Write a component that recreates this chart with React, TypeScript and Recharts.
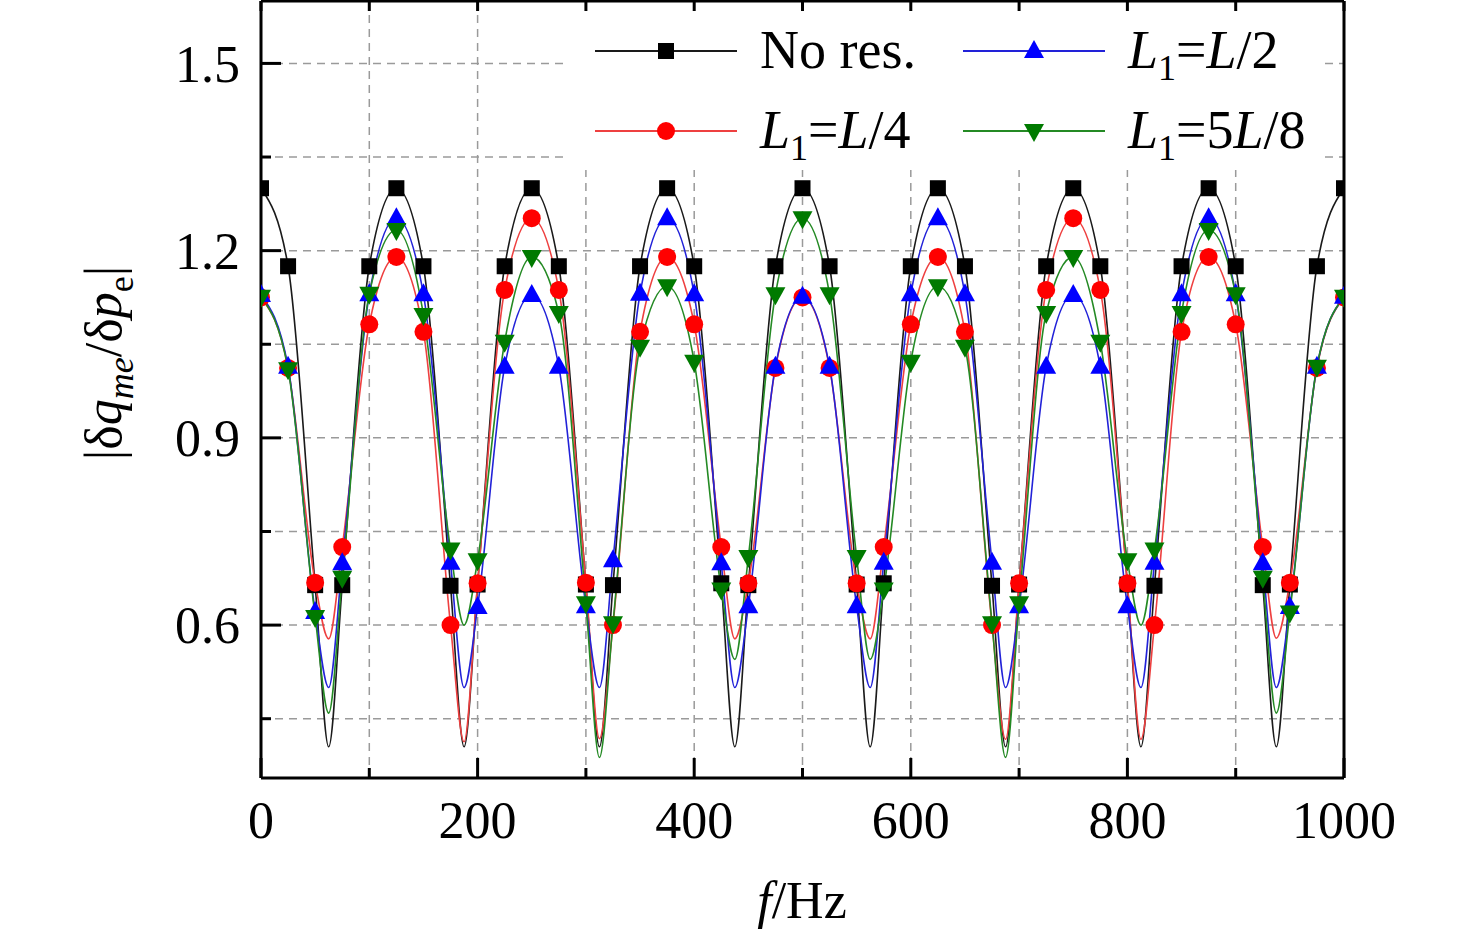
import React from "react";
import {
  LineChart, Line, XAxis, YAxis, CartesianGrid, Legend,
} from "recharts";

// frequency points: markers every 25 Hz, plus the dip bottoms between them
const F = [
  0, 25, 50, 62.5, 75, 100,
  125, 150, 175, 187.5, 200, 225,
  250, 275, 300, 312.5, 325, 350,
  375, 400, 425, 437.5, 450, 475,
  500, 525, 550, 562.5, 575, 600,
  625, 650, 675, 687.5, 700, 725,
  750, 775, 800, 812.5, 825, 850,
  875, 900, 925, 937.5, 950, 975,
  1000,
];

const NO_RES = [
  1.30, 1.175, 0.664, 0.405, 0.664, 1.175,
  1.30, 1.175, 0.663, 0.405, 0.665, 1.175,
  1.30, 1.175, 0.665, 0.405, 0.664, 1.175,
  1.30, 1.175, 0.667, 0.405, 0.664, 1.175,
  1.30, 1.175, 0.665, 0.405, 0.667, 1.175,
  1.30, 1.175, 0.663, 0.405, 0.665, 1.175,
  1.30, 1.175, 0.665, 0.405, 0.663, 1.175,
  1.30, 1.175, 0.664, 0.405, 0.665, 1.175,
  1.30,
];

const L_QUARTER = [
  1.125, 1.012, 0.668, 0.578, 0.725, 1.082,
  1.19, 1.07, 0.60, 0.413, 0.667, 1.137,
  1.252, 1.137, 0.668, 0.418, 0.60, 1.07,
  1.19, 1.082, 0.725, 0.578, 0.667, 1.012,
  1.125, 1.012, 0.667, 0.578, 0.725, 1.082,
  1.19, 1.07, 0.60, 0.417, 0.667, 1.137,
  1.252, 1.137, 0.667, 0.417, 0.60, 1.07,
  1.19, 1.082, 0.725, 0.579, 0.668, 1.012,
  1.125,
];

const L_HALF = [
  1.129, 1.014, 0.621, 0.50, 0.699, 1.13,
  1.252, 1.13, 0.70, 0.50, 0.629, 1.014,
  1.129, 1.014, 0.63, 0.50, 0.704, 1.131,
  1.252, 1.13, 0.699, 0.50, 0.63, 1.014,
  1.126, 1.014, 0.63, 0.50, 0.70, 1.13,
  1.252, 1.13, 0.70, 0.50, 0.63, 1.014,
  1.129, 1.014, 0.63, 0.50, 0.70, 1.13,
  1.252, 1.13, 0.699, 0.50, 0.629, 1.014,
  1.126,
];

const L_FIVE_EIGHTHS = [
  1.126, 1.01, 0.613, 0.459, 0.676, 1.131,
  1.233, 1.097, 0.721, 0.60, 0.704, 1.054,
  1.19, 1.10, 0.635, 0.388, 0.603, 1.046,
  1.143, 1.022, 0.657, 0.545, 0.709, 1.13,
  1.252, 1.13, 0.709, 0.545, 0.657, 1.022,
  1.143, 1.046, 0.603, 0.388, 0.635, 1.10,
  1.19, 1.054, 0.704, 0.60, 0.721, 1.10,
  1.233, 1.13, 0.676, 0.459, 0.62, 1.014,
  1.126,
];

const X_TICKS = [0, 100, 200, 300, 400, 500, 600, 700, 800, 900, 1000];
const Y_TICKS = [0.45, 0.6, 0.75, 0.9, 1.05, 1.2, 1.35, 1.5];
const X_MAJOR = [0, 200, 400, 600, 800, 1000];
const Y_MAJOR = [0.6, 0.9, 1.2, 1.5];

const FONT = "'Liberation Serif', 'Times New Roman', serif";
const FS = 52;

const data = F.map((f, i) => ({
  f,
  noRes: NO_RES[i],
  quarter: L_QUARTER[i],
  half: L_HALF[i],
  fiveEighths: L_FIVE_EIGHTHS[i],
}));

type Shape = "square" | "circle" | "up" | "down";

function Marker({ shape, color, cx, cy }: { shape: Shape; color: string; cx: number; cy: number }) {
  if (shape === "square") return <rect x={cx - 8} y={cy - 8} width={16} height={16} fill={color} />;
  if (shape === "circle") return <circle cx={cx} cy={cy} r={9} fill={color} />;
  if (shape === "up")
    return <polygon points={`${cx},${cy - 11} ${cx + 10},${cy + 7} ${cx - 10},${cy + 7}`} fill={color} />;
  return <polygon points={`${cx - 10},${cy - 7} ${cx + 10},${cy - 7} ${cx},${cy + 11}`} fill={color} />;
}

const makeDot = (shape: Shape, color: string) => (props: any) => {
  const { cx, cy, payload, index } = props;
  if (payload.f % 25 !== 0 || cx == null) return <g key={`d-${shape}-${index}`} />;
  return <g key={`d-${shape}-${index}`}><Marker shape={shape} color={color} cx={cx} cy={cy} /></g>;
};

const SERIES = [
  { key: "noRes", shape: "square" as Shape, line: "#1a1a1a", fill: "#000000" },
  { key: "quarter", shape: "circle" as Shape, line: "#ee4040", fill: "#ff0000" },
  { key: "half", shape: "up" as Shape, line: "#2222d8", fill: "#0000ff" },
  { key: "fiveEighths", shape: "down" as Shape, line: "#248a24", fill: "#007a00" },
];

function BottomTick(props: any) {
  const { x, y, payload } = props;
  const major = X_MAJOR.includes(payload.value);
  return (
    <g>
      <line x1={x} x2={x} y1={y} y2={y - (major ? 20 : 10)} stroke="#000" strokeWidth={3} />
      {major && (
        <text x={x} y={y + 60} textAnchor="middle" fontSize={FS} fontFamily={FONT} fill="#000">
          {payload.value}
        </text>
      )}
    </g>
  );
}

function TopTick(props: any) {
  const { x, y } = props;
  return <line x1={x} x2={x} y1={y} y2={y + 10} stroke="#000" strokeWidth={3} />;
}

function LeftTick(props: any) {
  const { x, y, payload } = props;
  const major = Y_MAJOR.some((v) => Math.abs(v - payload.value) < 1e-6);
  return (
    <g>
      <line x1={x} x2={x + (major ? 20 : 10)} y1={y} y2={y} stroke="#000" strokeWidth={3} />
      {major && (
        <text x={x - 21} y={y} dy="0.35em" textAnchor="end" fontSize={FS} fontFamily={FONT} fill="#000">
          {payload.value.toFixed(1)}
        </text>
      )}
    </g>
  );
}

function RightTick(props: any) {
  const { x, y, payload } = props;
  const major = Y_MAJOR.some((v) => Math.abs(v - payload.value) < 1e-6);
  return <line x1={x} x2={x - (major ? 20 : 10)} y1={y} y2={y} stroke="#000" strokeWidth={3} />;
}

function YTitle() {
  return (
    <text transform="translate(121,363) rotate(-90)" x={0} y={0} textAnchor="middle"
      fontSize={FS} fontFamily={FONT} fill="#000">
      |δ<tspan fontStyle="italic">q</tspan>
      <tspan fontStyle="italic" fontSize={36} dy={12}>me</tspan>
      <tspan dy={-12}>/δ</tspan>
      <tspan fontStyle="italic">p</tspan>
      <tspan fontSize={36} dy={12}>e</tspan>
      <tspan dy={-12}>|</tspan>
    </text>
  );
}

function XTitle() {
  return (
    <text x={802} y={918} textAnchor="middle" fontSize={FS} fontFamily={FONT} fill="#000">
      <tspan fontStyle="italic">f</tspan>/Hz
    </text>
  );
}

function LegendLabel({ parts }: { parts: string }) {
  if (parts === "No res.") return <>No res.</>;
  const rest = parts.slice(3); // after "L1="
  return (
    <>
      <tspan fontStyle="italic">L</tspan>
      <tspan fontSize={36} dy={12}>1</tspan>
      <tspan dy={-12}>=</tspan>
      {rest.split("").map((ch, i) =>
        ch === "L" ? <tspan key={i} fontStyle="italic">L</tspan> : <tspan key={i}>{ch}</tspan>
      )}
    </>
  );
}

const LEGEND_ITEMS = [
  { label: "No res.", s: 0, col: 0, row: 0 },
  { label: "L1=L/2", s: 2, col: 1, row: 0 },
  { label: "L1=L/4", s: 1, col: 0, row: 1 },
  { label: "L1=5L/8", s: 3, col: 1, row: 1 },
];

function LegendBox() {
  const colX = [30, 398];
  const rowY = [39, 119];
  return (
    <svg width={760} height={158} style={{ display: "block" }}>
      {LEGEND_ITEMS.map((it) => {
        const s = SERIES[it.s];
        const x0 = colX[it.col];
        const y = rowY[it.row];
        return (
          <g key={it.label}>
            <line x1={x0} x2={x0 + 142} y1={y} y2={y} stroke={s.line} strokeWidth={2} />
            <Marker shape={s.shape} color={s.fill} cx={x0 + 71} cy={y} />
            <text x={x0 + 165} y={y + 17} fontSize={54} fontFamily={FONT} fill="#000">
              <LegendLabel parts={it.label} />
            </text>
          </g>
        );
      })}
    </svg>
  );
}

export default function App() {
  return (
    <div style={{ position: "absolute", left: 0, top: 0, background: "#fff" }}>
      <LineChart width={1476} height={934} data={data}
        margin={{ top: 0, right: 131, bottom: 155, left: 260 }}>
        <CartesianGrid xAxisId="b" yAxisId="l" stroke="#9a9a9a" strokeWidth={1.5} strokeDasharray="8 6" />
        <XAxis xAxisId="b" dataKey="f" type="number" domain={[0, 1000]} ticks={X_TICKS}
          height={1} tickSize={0} tickMargin={0} interval={0} allowDataOverflow
          axisLine={{ stroke: "#000", strokeWidth: 3 }} tickLine={false}
          tick={<BottomTick />} label={<XTitle />} />
        <XAxis xAxisId="t" orientation="top" dataKey="f" type="number" domain={[0, 1000]} ticks={X_TICKS}
          height={1} tickSize={0} tickMargin={0} interval={0}
          axisLine={{ stroke: "#000", strokeWidth: 3 }} tickLine={false} tick={<TopTick />} />
        <YAxis yAxisId="l" type="number" domain={[0.355, 1.6]} ticks={Y_TICKS} allowDataOverflow
          width={1} tickSize={0} tickMargin={0} interval={0}
          axisLine={{ stroke: "#000", strokeWidth: 3 }} tickLine={false}
          tick={<LeftTick />} label={<YTitle />} />
        <YAxis yAxisId="r" orientation="right" type="number" domain={[0.355, 1.6]} ticks={Y_TICKS}
          width={1} tickSize={0} tickMargin={0} interval={0}
          axisLine={{ stroke: "#000", strokeWidth: 3 }} tickLine={false} tick={<RightTick />} />
        <Legend layout="vertical" align="center" verticalAlign="middle"
          wrapperStyle={{ left: 565, top: 12, width: 760, height: 158, background: "#fff" }}
          content={() => <LegendBox />} />
        {SERIES.map((s) => (
          <Line key={s.key} xAxisId="b" yAxisId="l" dataKey={s.key} type="monotone"
            stroke={s.line} strokeWidth={1.6} dot={makeDot(s.shape, s.fill)}
            activeDot={false} isAnimationActive={false} />
        ))}
      </LineChart>
    </div>
  );
}
